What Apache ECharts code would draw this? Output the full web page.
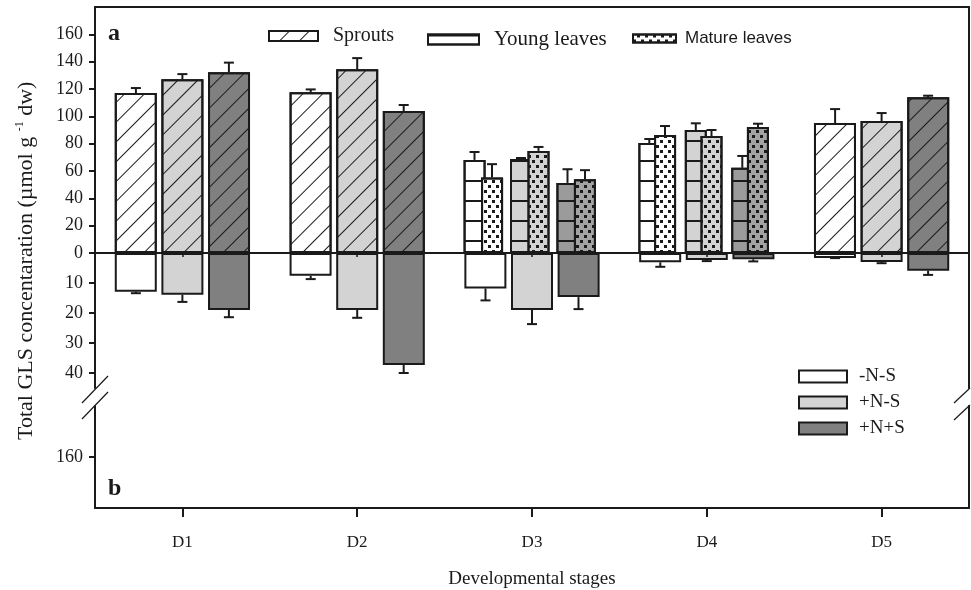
<!DOCTYPE html>
<html>
<head>
<meta charset="utf-8">
<script src="https://cdn.jsdelivr.net/npm/echarts@6/dist/echarts.min.js"></script>
<style>
  html, body { margin: 0; padding: 0; background: #fff; }
  #gls { width: 971px; height: 590px; }
</style>
</head>
<body>
<div id="gls"></div>
<script>
var chartGLS = echarts.init(document.getElementById('gls'));

// developmental stages
var stages = ['D1', 'D2', 'D3', 'D4', 'D5'];

// panel a: sprouts (D1, D2, D5)
var sproutsMinusNS = [117, 117.7, null, null, 95.1];
var sproutsMinusNSErr = [3.7, 2, null, null, 10.2];
var sproutsPlusNMinusS = [127.2, 134.5, null, null, 96.6];
var sproutsPlusNMinusSErr = [3.7, 8.1, null, null, 5.8];
var sproutsPlusNPlusS = [132.3, 103.9, null, null, 113.9];
var sproutsPlusNPlusSErr = [7, 4.4, null, null, 1.2];

// panel a: young leaves (D3, D4)
var youngMinusNS = [null, null, 68.1, 80.5, null];
var youngMinusNSErr = [null, null, 5.8, 2.9, null];
var youngPlusNMinusS = [null, null, 68.8, 90, null];
var youngPlusNMinusSErr = [null, null, 0.7, 4.9, null];
var youngPlusNPlusS = [null, null, 51.3, 62.3, null];
var youngPlusNPlusSErr = [null, null, 10, 8.7, null];

// panel a: mature leaves (D3, D4)
var matureMinusNS = [null, null, 55.2, 86.4, null];
var matureMinusNSErr = [null, null, 9.8, 6.5, null];
var maturePlusNMinusS = [null, null, 74.7, 85.6, null];
var maturePlusNMinusSErr = [null, null, 2.9, 4.4, null];
var maturePlusNPlusS = [null, null, 54, 92.2, null];
var maturePlusNPlusSErr = [null, null, 6.6, 2.4, null];

// panel b: plotted downwards from zero
var lowerMinusNS = [12.9, 7.6, 11.8, 3.1, 1.7];
var lowerMinusNSErr = [0.5, 1.1, 4, 1.5, 0];
var lowerPlusNMinusS = [13.9, 19, 19, 2.3, 3];
var lowerPlusNMinusSErr = [2.4, 2.6, 4.7, 0.4, 0.4];
var lowerPlusNPlusS = [19, 37.3, 14.7, 2.1, 5.9];
var lowerPlusNPlusSErr = [2.4, 2.7, 4, 0.7, 1.4];

// tick labels
var upperTicks = [0, 20, 40, 60, 80, 100, 120, 140, 160];
var lowerTicks = [10, 20, 30, 40];
var panelBTicks = [160];

var ink = '#1a1a1a';
var serif = 'Liberation Serif';
var white = '#ffffff', light = '#d3d3d3', dark = '#808080', darkLeaf = '#9b9b9b';

var hatch = { symbol: 'rect', symbolSize: 1, color: ink, dashArrayX: [1, 0], dashArrayY: [1, 13], rotation: -Math.PI / 4 };
var stripes = { symbol: 'rect', symbolSize: 1, color: ink, dashArrayX: [1, 0], dashArrayY: [2, 18] };
var dots = { symbol: 'rect', symbolSize: 1, color: ink, dashArrayX: [[2.5, 4.5], [0, 3.5, 2.5, 1]], dashArrayY: [2.5, 2] };

function bar(name, data, xi, color, decal, width, gap) {
  return {
    name: name, type: 'bar', data: data,
    xAxisIndex: xi, yAxisIndex: xi,
    barWidth: width, barGap: gap,
    itemStyle: { color: color, borderColor: ink, borderWidth: 2, decal: decal },
    emphasis: { disabled: true },
    z: 2
  };
}

var slotShift = [-46.5, 0, 46.5];

function errData(errs, means) {
  var out = [];
  errs.forEach(function (e, s) {
    means[s].forEach(function (m, i) {
      if (m != null) out.push([i, m, e[i], s]);
    });
  });
  return out;
}

function errSeries(xi, data) {
  return {
    type: 'custom', xAxisIndex: xi, yAxisIndex: xi, z: 5,
    encode: { x: 0, y: 1 },
    data: data,
    renderItem: function (params, api) {
      var p0 = api.coord([api.value(0), api.value(1)]);
      var p1 = api.coord([api.value(0), api.value(1) + api.value(2)]);
      var x = p0[0] + slotShift[api.value(3)];
      var st = { stroke: ink, lineWidth: 2 };
      return {
        type: 'group',
        children: [
          { type: 'line', shape: { x1: x, y1: p0[1], x2: x, y2: p1[1] }, style: st },
          { type: 'line', shape: { x1: x - 5, y1: p1[1], x2: x + 5, y2: p1[1] }, style: st }
        ]
      };
    }
  };
}

function hiddenX(gi) {
  return { type: 'category', data: stages, gridIndex: gi, show: false };
}
function hiddenY(gi, min, max) {
  return { type: 'value', gridIndex: gi, min: min, max: max, show: false, splitLine: { show: false } };
}
function borderY(gi, min, max) {
  return {
    type: 'value', gridIndex: gi, position: 'right', min: min, max: max,
    axisLine: { show: true, lineStyle: { color: ink, width: 2 } },
    axisTick: { show: false }, axisLabel: { show: false }, splitLine: { show: false }
  };
}
function labelY(gi, min, max, ticks, inverse) {
  return {
    type: 'value', gridIndex: gi, min: min, max: max, inverse: inverse,
    axisLine: { show: true, lineStyle: { color: ink, width: 2 } },
    axisTick: { show: true, length: 6, customValues: ticks, lineStyle: { color: ink, width: 2 } },
    axisLabel: { customValues: ticks, margin: 12, color: ink, fontFamily: serif, fontSize: 18 },
    splitLine: { show: false }
  };
}

var chartOption = {
  animation: false,
  grid: [
    { left: 95, right: 2, top: 7, height: 246 },
    { left: 84, width: 874, top: 7, height: 246 },
    { left: 106, width: 874, top: 7, height: 246 },
    { left: 95, right: 2, top: 253, height: 135 },
    { left: 95, right: 2, top: 406, height: 110 },
    // thin strip carrying the upper half of the stage ticks
    { left: 95, right: 2, top: 516, height: 1 }
  ],
  xAxis: [
    hiddenX(0),
    hiddenX(1),
    hiddenX(2),
    hiddenX(3),
    {
      type: 'category', data: stages, gridIndex: 4, position: 'bottom',
      axisLine: { show: true, lineStyle: { color: ink, width: 2 } },
      axisTick: { show: true, alignWithLabel: true, length: 9, lineStyle: { color: ink, width: 2 } },
      axisLabel: { margin: 26, color: ink, fontFamily: serif, fontSize: 17 },
      name: 'Developmental stages', nameLocation: 'middle', nameGap: 62,
      nameTextStyle: { color: ink, fontFamily: serif, fontSize: 19 }
    },
    // zero line with small ticks
    {
      type: 'category', data: stages, gridIndex: 0, position: 'bottom', z: 10,
      axisLine: { show: true, lineStyle: { color: ink, width: 2 } },
      axisTick: { show: true, alignWithLabel: true, length: 4, lineStyle: { color: ink, width: 1.5 } },
      axisLabel: { show: false }
    },
    // top frame line
    {
      type: 'category', data: stages, gridIndex: 0, position: 'top',
      axisLine: { show: true, lineStyle: { color: ink, width: 2 } },
      axisTick: { show: false }, axisLabel: { show: false }
    },
    {
      type: 'category', data: stages, gridIndex: 5, position: 'top',
      axisLine: { show: false },
      axisTick: { show: true, alignWithLabel: true, length: 8, lineStyle: { color: ink, width: 2 } },
      axisLabel: { show: false }
    }
  ],
  yAxis: [
    labelY(0, 0, 180, upperTicks, false),
    hiddenY(1, 0, 180),
    hiddenY(2, 0, 180),
    labelY(3, 0, 45, lowerTicks, true),
    labelY(4, 140, 180, panelBTicks, true),
    borderY(0, 0, 180),
    borderY(3, 0, 45),
    borderY(4, 140, 180),
    hiddenY(5, 0, 1)
  ],
  legend: [
    {
      left: 263, top: 21, icon: 'rect', itemWidth: 49, itemHeight: 10, selectedMode: false,
      textStyle: { color: ink, fontFamily: serif, fontSize: 20, padding: [0, 0, 0, 10] },
      data: ['Sprouts']
    },
    {
      left: 422, top: 24, icon: 'rect', itemWidth: 51, itemHeight: 10, selectedMode: false,
      textStyle: { color: ink, fontFamily: serif, fontSize: 21, padding: [0, 0, 0, 10] },
      data: ['Young leaves']
    },
    {
      left: 627, top: 25, icon: 'rect', itemWidth: 43, itemHeight: 8, selectedMode: false,
      textStyle: { color: ink, fontFamily: 'Liberation Sans', fontSize: 17, padding: [0, 0, 0, 4] },
      data: ['Mature leaves']
    },
    {
      left: 793, top: 362, orient: 'vertical', icon: 'rect', itemWidth: 48, itemHeight: 12, itemGap: 7,
      selectedMode: false,
      textStyle: { color: ink, fontFamily: serif, fontSize: 19, padding: [0, 0, 0, 7] },
      data: ['-N-S', '+N-S', '+N+S']
    }
  ],
  graphic: [
    { type: 'text', left: 108, top: 22, style: { text: 'a', fontFamily: serif, fontWeight: 'bold', fontSize: 24, fill: ink } },
    { type: 'text', left: 108, top: 477, style: { text: 'b', fontFamily: serif, fontWeight: 'bold', fontSize: 24, fill: ink } },
    {
      type: 'text', x: 14, y: 440, rotation: Math.PI / 2,
      style: {
        text: 'Total GLS concentaration (\u00b5mol g {sup|-1} dw)',
        fontFamily: serif, fontSize: 22, fill: ink,
        rich: { sup: { fontFamily: serif, fontSize: 12, fill: ink, padding: [0, 0, 12, 0] } }
      }
    },
    // axis break marks
    { type: 'line', shape: { x1: 82, y1: 403, x2: 108, y2: 376 }, style: { stroke: ink, lineWidth: 1.2 } },
    { type: 'line', shape: { x1: 82, y1: 419, x2: 108, y2: 392 }, style: { stroke: ink, lineWidth: 1.2 } },
    { type: 'line', shape: { x1: 954, y1: 403, x2: 970, y2: 388 }, style: { stroke: ink, lineWidth: 1.2 } },
    { type: 'line', shape: { x1: 954, y1: 420, x2: 970, y2: 405 }, style: { stroke: ink, lineWidth: 1.2 } }
  ],
  series: [
    bar('Sprouts', sproutsMinusNS, 0, white, hatch, 42, '11%'),
    bar('Sprouts +N-S', sproutsPlusNMinusS, 0, light, hatch, 42, '11%'),
    bar('Sprouts +N+S', sproutsPlusNPlusS, 0, dark, hatch, 42, '11%'),
    bar('Young leaves', youngMinusNS, 1, white, stripes, 22, '111%'),
    bar('Young leaves +N-S', youngPlusNMinusS, 1, light, stripes, 22, '111%'),
    bar('Young leaves +N+S', youngPlusNPlusS, 1, darkLeaf, stripes, 22, '111%'),
    bar('Mature leaves', matureMinusNS, 2, white, dots, 22, '111%'),
    bar('Mature leaves +N-S', maturePlusNMinusS, 2, light, dots, 22, '111%'),
    bar('Mature leaves +N+S', maturePlusNPlusS, 2, '#a3a3a3', dots, 22, '111%'),
    bar('-N-S', lowerMinusNS, 3, white, null, 42, '11%'),
    bar('+N-S', lowerPlusNMinusS, 3, light, null, 42, '11%'),
    bar('+N+S', lowerPlusNPlusS, 3, dark, null, 42, '11%'),
    errSeries(0, errData([sproutsMinusNSErr, sproutsPlusNMinusSErr, sproutsPlusNPlusSErr],
      [sproutsMinusNS, sproutsPlusNMinusS, sproutsPlusNPlusS])),
    errSeries(1, errData([youngMinusNSErr, youngPlusNMinusSErr, youngPlusNPlusSErr],
      [youngMinusNS, youngPlusNMinusS, youngPlusNPlusS])),
    errSeries(2, errData([matureMinusNSErr, maturePlusNMinusSErr, maturePlusNPlusSErr],
      [matureMinusNS, maturePlusNMinusS, maturePlusNPlusS])),
    errSeries(3, errData([lowerMinusNSErr, lowerPlusNMinusSErr, lowerPlusNPlusSErr],
      [lowerMinusNS, lowerPlusNMinusS, lowerPlusNPlusS]))
  ]
};

chartGLS.setOption(chartOption);
</script>
</body>
</html>
